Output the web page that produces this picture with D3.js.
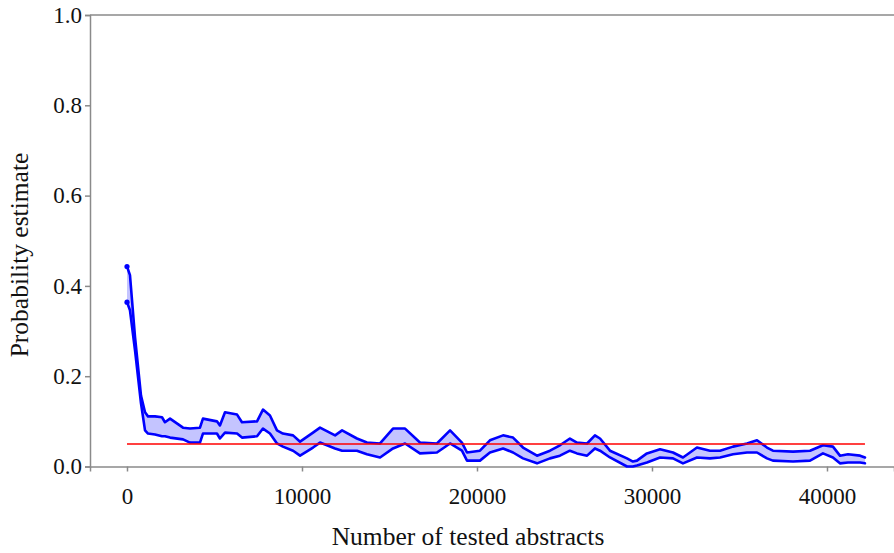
<!DOCTYPE html>
<meta charset="utf-8">
<style>
    body {
        margin: 0;
        background-color: #fff;
    }

    svg {
        display: block;
    }

    text {
        font-family: "Liberation Serif", "DejaVu Serif", serif;
        fill: #111;
    }

    .axis path,
    .axis line,
    .frame {
        stroke: #8a8a8a;
        stroke-width: 1.5px;
    }

    .axis text {
        font-size: 23px;
    }

    .band {
        fill: #c4c4ff;
        stroke: none;
    }

    .bound {
        fill: none;
        stroke: #0000ff;
        stroke-width: 2.6px;
        stroke-linejoin: round;
        stroke-linecap: round;
    }

    .ref {
        stroke: #ff0000;
        stroke-width: 1.5px;
    }
</style>
<svg width="894" height="553"></svg>
<script src="https://d3js.org/d3.v7.min.js"></script>
<script>
    // number of tested abstracts (x) and the upper / lower probability bounds
    var abstracts = [0, 170, 460, 800, 1030, 1200, 1600, 2000, 2170, 2460, 3200, 3600, 4170, 4340, 5140, 5310,
        5600, 6290, 6570, 7430, 7770, 8170, 8570, 8910, 9490, 9890, 10630, 11030, 11890, 12290, 13140, 13710,
        14460, 15200, 15890, 16740, 17710, 18460, 19140, 19430, 20170, 20740, 21490, 22060, 22630, 23430, 24170,
        24740, 25310, 25710, 26290, 26740, 27030, 27600, 28570, 28910, 29140, 29710, 30460, 31200, 31770, 32570,
        33310, 33890, 34630, 35430, 36000, 36570, 36910, 38060, 39030, 39770, 40340, 40740, 41200, 41890, 42170];

    var upper = [0.443, 0.424, 0.286, 0.157, 0.120, 0.111, 0.111, 0.109, 0.098, 0.106, 0.086, 0.084, 0.086, 0.106,
        0.100, 0.091, 0.120, 0.115, 0.098, 0.100, 0.126, 0.113, 0.080, 0.073, 0.069, 0.055, 0.075, 0.086, 0.069,
        0.080, 0.062, 0.053, 0.051, 0.084, 0.084, 0.053, 0.051, 0.080, 0.053, 0.031, 0.035, 0.058, 0.069, 0.064,
        0.042, 0.024, 0.035, 0.047, 0.062, 0.053, 0.051, 0.069, 0.062, 0.035, 0.018, 0.011, 0.013, 0.029, 0.038,
        0.031, 0.020, 0.042, 0.035, 0.035, 0.044, 0.051, 0.058, 0.042, 0.035, 0.033, 0.035, 0.047, 0.044, 0.024,
        0.027, 0.024, 0.020];

    var lower = [0.364, 0.346, 0.257, 0.140, 0.080, 0.073, 0.071, 0.067, 0.067, 0.064, 0.060, 0.053, 0.053, 0.073,
        0.073, 0.062, 0.075, 0.073, 0.064, 0.067, 0.084, 0.073, 0.051, 0.044, 0.035, 0.024, 0.042, 0.053, 0.040,
        0.035, 0.035, 0.027, 0.020, 0.040, 0.051, 0.029, 0.031, 0.051, 0.035, 0.013, 0.013, 0.031, 0.040, 0.031,
        0.018, 0.007, 0.018, 0.024, 0.035, 0.029, 0.024, 0.040, 0.035, 0.020, 0.000, 0.000, 0.002, 0.009, 0.020,
        0.018, 0.007, 0.020, 0.018, 0.020, 0.027, 0.031, 0.031, 0.018, 0.013, 0.011, 0.013, 0.029, 0.020, 0.007,
        0.009, 0.009, 0.007];

    var xTicks = [0, 10000, 20000, 30000, 40000];
    var yTicks = [0, 0.2, 0.4, 0.6, 0.8, 1.0];
    var threshold = 0.05;

    var svg = d3.select("svg"),
        width = +svg.attr("width"),
        height = +svg.attr("height");

    var plotLeft = 90, plotTop = 15, plotBottom = 466.5;

    var x = d3.scaleLinear()
        .domain([-2114, 43829])
        .range([plotLeft, width]);

    var y = d3.scaleLinear()
        .domain([0, 1])
        .range([plotBottom, plotTop]);

    var data = abstracts.map(function(d, i) {
        return { n: d, hi: upper[i], lo: lower[i] };
    });

    // top edge of the frame
    svg.append("line")
        .attr("class", "frame")
        .attr("x1", plotLeft)
        .attr("x2", width)
        .attr("y1", plotTop)
        .attr("y2", plotTop);

    svg.append("g")
        .attr("class", "axis")
        .attr("transform", "translate(0," + plotBottom + ")")
        .call(d3.axisBottom(x).tickValues(xTicks).tickFormat(d3.format("d")).tickSizeOuter(0).tickSize(5).tickPadding(16))
        .call(function(g) { g.attr("font-family", null).attr("font-size", null); });

    svg.append("g")
        .attr("class", "axis")
        .attr("transform", "translate(" + plotLeft + ",0)")
        .call(d3.axisLeft(y).tickValues(yTicks).tickFormat(d3.format(".1f")).tickSizeOuter(0).tickSize(5).tickPadding(3))
        .call(function(g) { g.attr("font-family", null).attr("font-size", null); });

    svg.append("path")
        .datum(data)
        .attr("class", "band")
        .attr("d", d3.area()
            .x(function(d) { return x(d.n); })
            .y0(function(d) { return y(d.lo); })
            .y1(function(d) { return y(d.hi); }));

    ["hi", "lo"].forEach(function(key) {
        svg.append("path")
            .datum(data)
            .attr("class", "bound")
            .attr("d", d3.line()
                .x(function(d) { return x(d.n); })
                .y(function(d) { return y(d[key]); }));

        svg.append("circle")
            .attr("cx", x(data[0].n))
            .attr("cy", y(data[0][key]))
            .attr("r", 2.6)
            .attr("fill", "#0000ff");
    });

    // 0.05 reference level, drawn over the bounds
    svg.append("line")
        .attr("class", "ref")
        .attr("x1", x(0))
        .attr("x2", x(d3.max(abstracts)))
        .attr("y1", y(threshold))
        .attr("y2", y(threshold));

    svg.append("text")
        .attr("x", 468)
        .attr("y", 545)
        .attr("text-anchor", "middle")
        .attr("font-size", 25.5)
        .text("Number of tested abstracts");

    svg.append("text")
        .attr("transform", "translate(28,255) rotate(-90)")
        .attr("text-anchor", "middle")
        .attr("font-size", 25.5)
        .text("Probability estimate");
</script>
